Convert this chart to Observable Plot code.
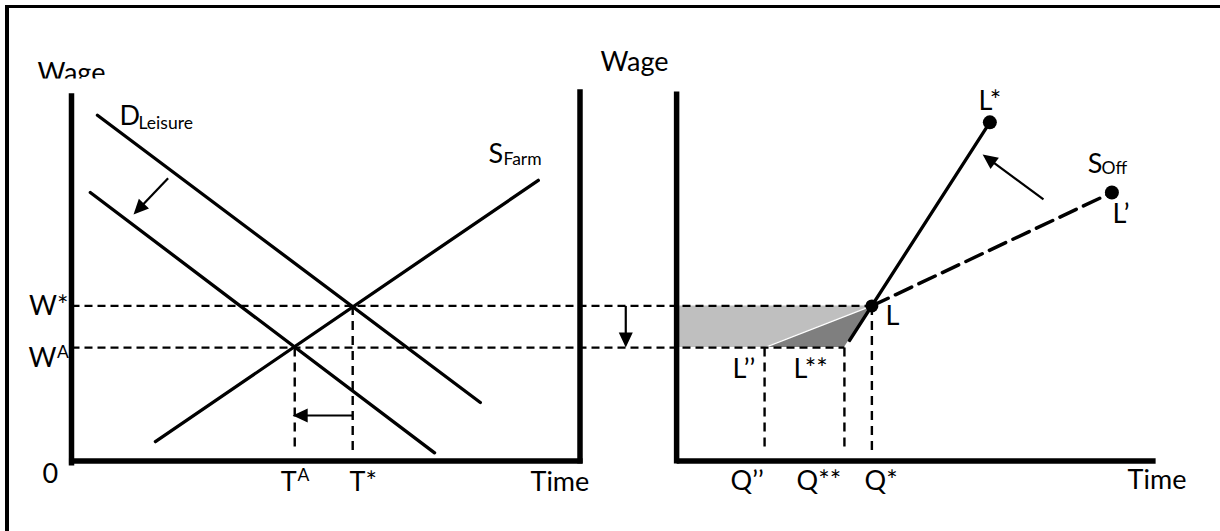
<!DOCTYPE html>
<html><head><meta charset="utf-8">
<script src="https://cdn.jsdelivr.net/npm/d3@7"></script>
<script src="https://cdn.jsdelivr.net/npm/@observablehq/plot@0.6"></script>
<style>
html,body{margin:0;padding:0;background:#fff;}
#wrap{position:relative;width:1220px;height:531px;overflow:hidden;}
#border{position:absolute;left:5px;top:5px;width:1300px;height:600px;border-top:3.5px solid #000;border-left:4px solid #000;box-sizing:border-box;pointer-events:none;}
</style></head><body>
<div id="wrap"><div id="chart"></div><div id="border"></div></div>
<script>
// ---------- data (diagram units; both panels share one unit size) ----------
// left panel: farm labour / leisure market
const wageStar = 30.5;      // W*
const wageA = 22.3;         // W^A
const timeStar = 55.3;      // T*
const timeA = 43.9;         // T^A
const demandLeisure = [{t: 5.1, w: 68.0}, {t: 80.4, w: 11.5}];
const demandShifted = [{t: 3.7, w: 52.8}, {t: 71.4, w: 1.6}];
const supplyFarm = [{t: 16.5, w: 3.8}, {t: 91.8, w: 55.2}];

// right panel: off-farm labour supply
const qStar = 38.4;         // Q*
const qStarStar = 33.0;     // Q**
const qDouble = 17.3;       // Q''
const pointL = {t: 38.4, w: 30.5};
const pointLStar = {t: 61.6, w: 66.6};
const pointLPrime = {t: 85.6, w: 52.8};
const solidLowEnd = {t: 34.0, w: 23.7};

// arrows [x1, y1, x2, y2] (panel units)
const arrowsLeft = [[19.0, 55.6, 12.2, 48.5], [55.3, 8.95, 43.5, 8.95]];
const arrowsRight = [[-10.0, 30.5, -10.0, 22.3], [72.15, 51.43, 60.18, 60.28]];

// labels: [t, w, text]
const leftMain = [[9.44, 65.98, "D"], [82.01, 58.70, "S"], [-5.70, -4.23, "0"], [54.67, -5.99, "T*"], [90.27, -5.99, "Time"]];
const leftMainEnd = [[-0.59, 28.81, "W*"], [-2.95, 18.39, "W"], [44.3, -5.99, "T"]];
const leftSmall = [[13.18, 65.29, "Leisure"], [84.96, 58.21, "Farm"], [-2.85, 20.16, "A"], [44.45, -3.9, "A"]];
const leftWage = [[-6.69, 74.53, "Wage"]];
const rightMain = [[-14.95, 76.79, "Wage"], [59.39, 69.12, "L*"], [80.83, 56.73, "S"], [85.74, 46.90, "L’"], [41.10, 26.65, "L"],
  [11.01, 16.42, "L’’"], [23.01, 16.42, "L**"], [10.62, -5.80, "Q’’"], [23.60, -5.80, "Q**"], [36.97, -5.80, "Q*"], [88.69, -5.41, "Time"]];
const rightSmall = [[83.58, 56.44, "Off"]];

// ---------- layout ----------
const X0R = 119.0;  // horizontal offset of right panel origin
const R = t => t + X0R;
const lab = (arr, off = 0) => arr.map(([t, w, s]) => ({x: t + off, y: w, s}));
const HEAD_LEN = 2.95, HEAD_HALF = 1.38;

const arrows = [...arrowsLeft.map(a => a), ...arrowsRight.map(([a, b, c, d]) => [R(a), b, R(c), d])]
  .map(([x1, y1, x2, y2], i) => ({i, x1, y1, x2, y2}));
const shafts = arrows.map(a => {
  const dx = a.x2 - a.x1, dy = a.y2 - a.y1, len = Math.hypot(dx, dy);
  return {...a, x2: a.x2 - dx / len * HEAD_LEN * 0.8, y2: a.y2 - dy / len * HEAD_LEN * 0.8};
});
const heads = arrows.flatMap(a => {
  const dx = a.x2 - a.x1, dy = a.y2 - a.y1, len = Math.hypot(dx, dy);
  const ux = dx / len, uy = dy / len;
  const bx = a.x2 - ux * HEAD_LEN, by = a.y2 - uy * HEAD_LEN;
  return [{i: a.i, x: a.x2, y: a.y2}, {i: a.i, x: bx - uy * HEAD_HALF, y: by + ux * HEAD_HALF},
          {i: a.i, x: bx + uy * HEAD_HALF, y: by - ux * HEAD_HALF}, {i: a.i, x: a.x2, y: a.y2}];
});

const axes = [
  {x1: 0, y1: -0.9, x2: 0, y2: 72.3},
  {x1: -0.5, y1: 0, x2: 100.5, y2: 0},
  {x1: 100, y1: -0.5, x2: 100, y2: 73.1},
  {x1: R(0), y1: -0.5, x2: R(0), y2: 72.66},
  {x1: R(0), y1: 0, x2: R(94.2), y2: 0}
];
const guidesH = [
  {x1: 0, y1: wageStar, x2: R(qStar), y2: wageStar},
  {x1: 0, y1: wageA, x2: R(qStarStar), y2: wageA}
];
const guidesV = [
  {x1: timeA, y1: wageA, x2: timeA, y2: 1.7},
  {x1: timeStar, y1: wageStar, x2: timeStar, y2: 1.7},
  {x1: R(qDouble), y1: wageA, x2: R(qDouble), y2: 2.0},
  {x1: R(qStarStar), y1: wageA, x2: R(qStarStar), y2: 2.0},
  {x1: R(qStar), y1: wageStar, x2: R(qStar), y2: 2.0}
];
const lightArea = [{y: wageA, a: R(0), b: R(qDouble)}, {y: wageStar, a: R(0), b: R(qStar)}];
const darkArea = [{y: wageA, a: R(qDouble), b: R(qStarStar)}, {y: wageStar, a: R(qStar), b: R(qStar)}];

const FS = 27, FS2 = 17.5;
const chart = Plot.plot({
  width: 1220, height: 531, margin: 0,
  x: {domain: [0, 100], range: [71, 579.5], axis: null},
  y: {domain: [0, 100], range: [460.5, -48], axis: null},
  style: {fontFamily: "Lato, sans-serif", background: "transparent", overflow: "visible"},
  marks: [
    Plot.areaX(lightArea, {y: "y", x1: "a", x2: "b", fill: "#bfbfbf"}),
    Plot.areaX(darkArea, {y: "y", x1: "a", x2: "b", fill: "#7f7f7f"}),
    Plot.link([{x1: R(qDouble), y1: wageA, x2: R(qStar), y2: wageStar}], {x1: "x1", y1: "y1", x2: "x2", y2: "y2", stroke: "white", strokeWidth: 1.5}),
    Plot.link(guidesH, {x1: "x1", y1: "y1", x2: "x2", y2: "y2", strokeWidth: 2.4, strokeDasharray: "8,5"}),
    Plot.link(guidesV, {x1: "x1", y1: "y1", x2: "x2", y2: "y2", strokeWidth: 2.4, strokeDasharray: "9,6"}),
    Plot.link(axes, {x1: "x1", y1: "y1", x2: "x2", y2: "y2", strokeWidth: 5.5}),
    Plot.line(demandLeisure, {x: "t", y: "w", strokeWidth: 3.3}),
    Plot.line(demandShifted, {x: "t", y: "w", strokeWidth: 3.3}),
    Plot.line(supplyFarm, {x: "t", y: "w", strokeWidth: 3.3}),
    Plot.line([pointLStar, solidLowEnd], {x: d => R(d.t), y: "w", strokeWidth: 3.3}),
    Plot.line([pointL, pointLPrime], {x: d => R(d.t), y: "w", strokeWidth: 3.5, strokeDasharray: "18,8"}),
    Plot.dot([pointLStar, pointLPrime], {x: d => R(d.t), y: "w", r: 7, fill: "black", stroke: "none"}),
    Plot.dot([pointL], {x: d => R(d.t), y: "w", r: 6.5, fill: "black", stroke: "none"}),
    Plot.link(shafts, {x1: "x1", y1: "y1", x2: "x2", y2: "y2", strokeWidth: 2.2}),
    Plot.line(heads, {x: "x", y: "y", z: "i", fill: "black", stroke: "none"}),
    Plot.text(lab(leftMain), {x: "x", y: "y", text: "s", textAnchor: "start", lineAnchor: "bottom", fontSize: FS}),
    Plot.text(lab(leftMainEnd), {x: "x", y: "y", text: "s", textAnchor: "end", lineAnchor: "bottom", fontSize: FS}),
    Plot.text(lab(leftSmall), {x: "x", y: "y", text: "s", textAnchor: "start", lineAnchor: "bottom", fontSize: FS2}),
    Plot.text(lab(leftWage), {x: "x", y: "y", text: "s", textAnchor: "start", lineAnchor: "bottom", fontSize: FS, className: "wage-left"}),
    Plot.text(lab(rightMain, X0R), {x: "x", y: "y", text: "s", textAnchor: "start", lineAnchor: "bottom", fontSize: FS}),
    Plot.text(lab(rightSmall, X0R), {x: "x", y: "y", text: "s", textAnchor: "start", lineAnchor: "bottom", fontSize: FS2})
  ]
});
// the left "Wage" label is cut off just above its baseline in the original
const svg = d3.select(chart);
svg.insert("defs", ":first-child").append("clipPath").attr("id", "wageclip")
  .append("rect").attr("x", 0).attr("y", 0).attr("width", 300).attr("height", 78);
svg.selectAll("g.wage-left").attr("clip-path", "url(#wageclip)");
document.getElementById("chart").appendChild(chart);
</script>
</body></html>
